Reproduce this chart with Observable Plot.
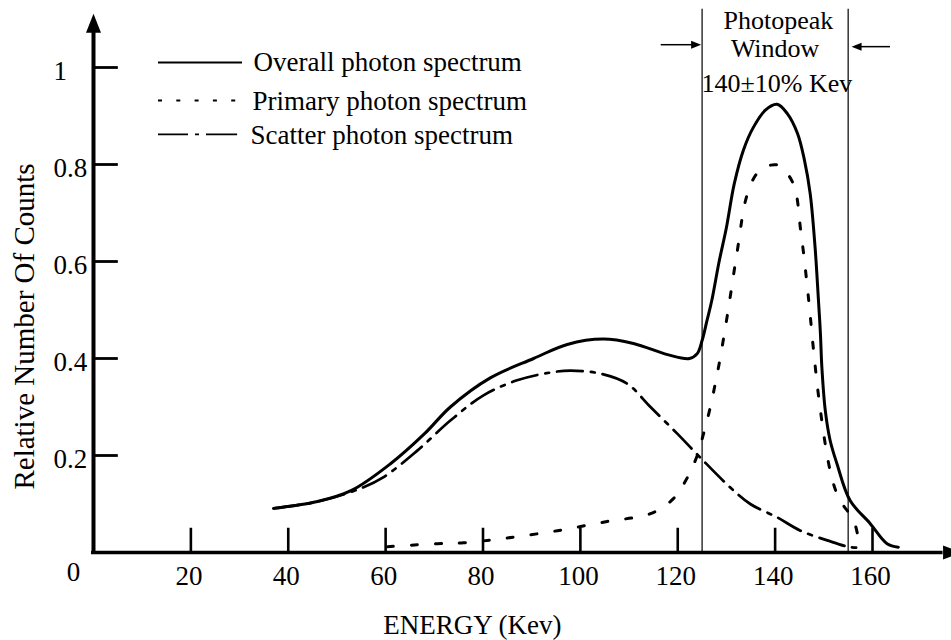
<!DOCTYPE html>
<html><head><meta charset="utf-8">
<script src="https://cdn.jsdelivr.net/npm/d3@7"></script>
<script src="https://cdn.jsdelivr.net/npm/@observablehq/plot@0.6"></script>
<style>body{margin:0;background:#fff} svg{display:block} svg text{font-family:'Liberation Serif','Times New Roman',serif !important}</style>
</head><body><div id="chart"></div>
<script>
// ---- data ----
const energyTicks = [20, 40, 60, 80, 100, 120, 140, 160];
const energyTickLabels = ["20", "40", "60", "80", "100", "120", "140", "160"];
const countTicks = [0.2, 0.4, 0.6, 0.8, 1];
const countTickLabels = ["0.2", "0.4", "0.6", "0.8", "1"];
const windowEdges = [125, 155];

const overallSpectrum = [
  [37, 0.091], [46, 0.105], [53, 0.128], [61, 0.183], [68, 0.245], [73.3, 0.30],
  [81.5, 0.36], [90.4, 0.40], [97.3, 0.429], [104.7, 0.44], [110.9, 0.431],
  [117.9, 0.408], [122.4, 0.40], [124, 0.41], [125, 0.437], [126, 0.478], [127, 0.52],
  [128.5, 0.6], [130, 0.67], [131.6, 0.76], [133.5, 0.83], [135.5, 0.876], [138, 0.912],
  [140.4, 0.924], [142.5, 0.905], [144.6, 0.864], [146, 0.81], [147.2, 0.74],
  [148.2, 0.63], [148.9, 0.52], [149.3, 0.452], [149.6, 0.382], [150.3, 0.293],
  [151.3, 0.231], [152.7, 0.183], [155.4, 0.107], [159.5, 0.06], [163, 0.018], [165.3, 0.011]
];
const primarySpectrum = [
  [60.4, 0.012], [65, 0.015], [70.6, 0.018], [76, 0.02], [85, 0.03], [95.3, 0.045],
  [105.5, 0.064], [114.4, 0.08], [119.1, 0.111], [122, 0.155], [124, 0.2], [125.3, 0.245],
  [126.7, 0.30], [127.7, 0.348], [128.7, 0.40], [130.2, 0.49], [132.2, 0.62], [134.2, 0.736],
  [136.3, 0.782], [138.5, 0.797], [140.7, 0.798], [143.7, 0.761], [145.3, 0.66], [146.9, 0.52],
  [147.9, 0.416], [149.3, 0.293], [151.3, 0.169], [153, 0.114], [156.1, 0.066], [157, 0.035], [157.5, 0.012]
];
const scatterSpectrum = [
  [37, 0.091], [46, 0.105], [54.8, 0.132], [59.5, 0.155], [66.5, 0.21], [73.3, 0.272],
  [80.1, 0.324], [87, 0.355], [93.8, 0.371], [98, 0.375], [104, 0.369], [109.6, 0.348],
  [114.4, 0.30], [119.9, 0.245], [124.6, 0.196], [130.8, 0.134], [134.9, 0.10],
  [140.5, 0.072], [145.2, 0.045], [150.7, 0.025], [155.4, 0.011], [157.9, 0.01]
];
const legendLabels = ["Overall photon spectrum", "Primary photon spectrum", "Scatter photon spectrum"];
const windowLabels = ["Photopeak", "Window", "140±10% Kev"];

// ---- helpers ----
const arrowSym = (dx, dy, len, half) => ({
  draw(ctx) {
    const bx = -dx * len, by = -dy * len, px = -dy * half, py = dx * half;
    ctx.moveTo(0, 0); ctx.lineTo(bx + px, by + py); ctx.lineTo(bx - px, by - py); ctx.closePath();
  }
});
const X = d => d[0], Y = d => d[1];
const font = "Liberation Serif";

const chart = Plot.plot({
  width: 951, height: 640, margin: 0,
  x: {domain: [0, 160], range: [93, 872], axis: null},
  y: {domain: [0, 1], range: [552, 67], axis: null},
  style: "font-family: 'Liberation Serif', serif; background: white; color: black;",
  marks: [
    // ticks
    Plot.ruleX(energyTicks, {y1: 0, y2: 0.05, stroke: "black", strokeWidth: 2.6}),
    Plot.ruleY(countTicks, {x1: 0, x2: 5.1, stroke: "black", strokeWidth: 2.8}),
    // photopeak window
    Plot.ruleX(windowEdges, {y1: 0, y2: 1.12, stroke: "black", strokeWidth: 1.2}),
    Plot.ruleY([1.047], {x1: 116.6, x2: 123, stroke: "black", strokeWidth: 1.5}),
    Plot.dot([124.8], {x: d => d, y: 1.047, symbol: arrowSym(1, 0, 10, 4), fill: "black", stroke: null}),
    Plot.ruleY([1.043], {x1: 157.5, x2: 163.7, stroke: "black", strokeWidth: 1.5}),
    Plot.dot([155.7], {x: d => d, y: 1.043, symbol: arrowSym(-1, 0, 10, 4), fill: "black", stroke: null}),
    // curves
    Plot.line(overallSpectrum, {x: X, y: Y, curve: "catmull-rom", stroke: "black", strokeWidth: 3}),
    Plot.line(primarySpectrum, {x: X, y: Y, curve: "catmull-rom", stroke: "black", strokeWidth: 3, strokeDasharray: "6,18"}),
    Plot.line(scatterSpectrum, {x: X, y: Y, curve: "catmull-rom", stroke: "black", strokeWidth: 2.7, strokeDasharray: "26,8,4,8"}),
    // axes
    Plot.ruleX([0], {y1: -0.004, y2: 1.078, stroke: "black", strokeWidth: 4}),
    Plot.ruleY([0], {x1: -0.4, x2: 174.5, stroke: "black", strokeWidth: 3.5}),
    Plot.dot([1.111], {x: 0, y: d => d, symbol: arrowSym(0, -1, 19, 7.5), fill: "black", stroke: null}),
    Plot.dot([178.4], {x: d => d, y: 0, symbol: arrowSym(1, 0, 19, 7), fill: "black", stroke: null}),
    // tick labels
    Plot.text(energyTicks, {x: d => d, y: 0, text: (d, i) => energyTickLabels[i], dx: -2, dy: 13, lineAnchor: "top", fontSize: 27, fontFamily: font, fill: "black"}),
    Plot.text(["0"], {x: -4.1, y: 0, text: d => d, dy: 9, lineAnchor: "top", fontSize: 27, fontFamily: font, fill: "black"}),
    Plot.text(countTicks, {x: -8.2, y: d => d, text: (d, i) => countTickLabels[i], dy: 4, textAnchor: "start", lineAnchor: "middle", fontSize: 27, fontFamily: font, fill: "black"}),
    // axis titles
    Plot.text(["ENERGY (Kev)"], {x: 77.8, y: -0.151, text: d => d, fontSize: 27, fontFamily: font, lineAnchor: "middle", fill: "black"}),
    Plot.text(["Relative Number Of Counts"], {x: -14.2, y: 0.466, text: d => d, rotate: -90, fontSize: 29, fontFamily: font, lineAnchor: "middle", fill: "black"}),
    // legend
    Plot.ruleY([1.0103], {x1: 13.35, x2: 30.6, stroke: "black", strokeWidth: 1.8}),
    Plot.ruleY([0.932], {x1: 13.35, x2: 29.8, stroke: "black", strokeWidth: 1.8, strokeDasharray: "4,14.3"}),
    Plot.ruleY([0.862], {x1: 13.35, x2: 29.6, stroke: "black", strokeWidth: 1.8, strokeDasharray: "30,7,4,7,40"}),
    Plot.text(legendLabels, {x: [32.85, 32.65, 32.24], y: [1.0103, 0.93, 0.86], text: d => d, textAnchor: "start", lineAnchor: "middle", fontSize: 27, fontFamily: font, fill: "black"}),
    // window labels
    Plot.text(windowLabels, {x: [140.66, 140, 140.35], y: [1.096, 1.039, 0.966], text: d => d, lineAnchor: "middle", fontSize: 26, fontFamily: font, fill: "black"})
  ]
});
document.getElementById("chart").appendChild(chart);
</script>
</body></html>
